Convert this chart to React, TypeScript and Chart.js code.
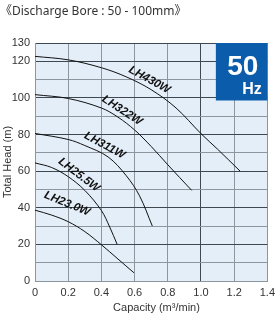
import React, { useEffect, useRef } from "react";
import { Chart, registerables } from "chart.js";

Chart.register(...registerables);

const titleText = "《Discharge Bore : 50 - 100mm》";
const xTitle = "Capacity (m³/min)";
const yTitle = "Total Head (m)";

const q430 = [0, 0.2, 0.4, 0.55, 0.7, 0.85, 1.0, 1.1, 1.236];
const h430 = [122.7, 120.8, 116.5, 111.5, 104.5, 94.5, 80.5, 72, 60];

const q322 = [0, 0.2, 0.4, 0.5, 0.6, 0.7, 0.8, 0.944];
const h322 = [101.8, 99.7, 94.5, 89.5, 82.5, 73.5, 63.5, 49.5];

const q311 = [0, 0.2, 0.3, 0.44, 0.55, 0.63, 0.707];
const h311 = [80.6, 77.3, 74, 67.8, 57.5, 46.5, 30];

const q255 = [0, 0.1, 0.2, 0.3, 0.4, 0.45, 0.495];
const h255 = [64.5, 62, 57, 49.5, 38.5, 29.5, 20];

const q230 = [0, 0.1, 0.2, 0.3, 0.4, 0.5, 0.596];
const h230 = [38.7, 36, 32.4, 27, 19.8, 12, 4.5];

// label anchors (baseline centre, in data units) and rotation in degrees
const labelNames = ["LH430W", "LH322W", "LH311W", "LH25.5W", "LH23.0W"];
const labelQ = [0.6675, 0.499, 0.398, 0.237, 0.176];
const labelH = [106.2, 89.7, 70.3, 54.6, 38.3];
const labelAngle = [29, 33, 28, 37, 22];

const hzMain = "50";
const hzUnit = "Hz";

const series = [
  [q430, h430],
  [q322, h322],
  [q311, h311],
  [q255, h255],
  [q230, h230],
];

const decorPlugin = {
  id: "decor",
  beforeDraw(chart: any) {
    const { ctx, chartArea } = chart;
    ctx.save();
    ctx.fillStyle = "#e4eef8";
    ctx.fillRect(chartArea.left, chartArea.top, chartArea.right - chartArea.left, chartArea.bottom - chartArea.top);
    ctx.restore();
  },
  afterDatasetsDraw(chart: any) {
    const { ctx, chartArea, scales } = chart;
    const xs = scales.x;
    const ys = scales.y;
    ctx.save();
    // curve labels
    ctx.fillStyle = "#111";
    ctx.font = "italic bold 11.5px 'Liberation Sans', Arial, sans-serif";
    ctx.textAlign = "center";
    ctx.textBaseline = "alphabetic";
    for (let i = 0; i < labelNames.length; i++) {
      const px = xs.getPixelForValue(labelQ[i]);
      const py = ys.getPixelForValue(labelH[i]);
      ctx.save();
      ctx.translate(px, py);
      ctx.rotate((labelAngle[i] * Math.PI) / 180);
      ctx.fillText(labelNames[i], 0, -4.5);
      ctx.restore();
    }
    // 50 Hz box
    const bw = 51.5;
    const bh = 57.5;
    const bx = chartArea.right - bw;
    const by = chartArea.top;
    ctx.fillStyle = "#0b5cab";
    ctx.fillRect(bx, by, bw, bh);
    ctx.fillStyle = "#ffffff";
    ctx.font = "bold 28px 'Liberation Sans', Arial, sans-serif";
    ctx.textAlign = "center";
    ctx.textBaseline = "alphabetic";
    ctx.fillText(hzMain, bx + 27, by + 32);
    ctx.font = "bold 16px 'Liberation Sans', Arial, sans-serif";
    ctx.textAlign = "right";
    ctx.fillText(hzUnit, bx + 46, by + 51);
    // title
    ctx.fillStyle = "#333";
    ctx.font = "12px 'Noto Sans', 'Noto Sans CJK JP', sans-serif";
    ctx.textAlign = "left";
    ctx.textBaseline = "alphabetic";
    ctx.fillText(titleText, 0, 15);
    // axis titles
    ctx.fillStyle = "#333";
    ctx.font = "11px 'Liberation Sans', Arial, sans-serif";
    ctx.textAlign = "center";
    ctx.textBaseline = "middle";
    ctx.fillText(xTitle, 156.5, 308);
    ctx.save();
    ctx.translate(8, 162);
    ctx.rotate(-Math.PI / 2);
    ctx.fillText(yTitle, 0, 0);
    ctx.restore();
    ctx.restore();
  },
};

export default function App() {
  const ref = useRef<HTMLCanvasElement | null>(null);
  useEffect(() => {
    if (!ref.current) return;
    const chart = new Chart(ref.current, {
      type: "line",
      data: {
        datasets: series.map(([q, h], i) => ({
          label: labelNames[i],
          data: q.map((x, j) => ({ x, y: h[j] })),
          borderColor: "#111",
          borderWidth: 1,
          pointRadius: 0,
          tension: 0.35,
          fill: false,
        })),
      },
      options: {
        animation: false,
        responsive: false,
        maintainAspectRatio: false,
        layout: { padding: { top: 43, right: 6, left: 0, bottom: 0 } },
        plugins: {
          legend: { display: false },
          tooltip: { enabled: false },
          title: { display: false },
        },
        scales: {
          x: {
            type: "linear",
            min: 0,
            max: 1.4,
            afterFit: (s: any) => {
              s.height = 36;
            },
            ticks: {
              stepSize: 0.2,
              color: "#333",
              font: { family: "'Liberation Sans', Arial, sans-serif", size: 11 },
              padding: 5,
              maxRotation: 0,
              callback: (v: any) => (v === 0 ? "0" : Number(v).toFixed(1)),
            },
            grid: {
              drawTicks: false,
              color: (c: any) => (c.tick && Math.abs(c.tick.value - 1) < 1e-6 ? "#3f4850" : "#8e959c"),
              lineWidth: 1,
            },
            border: { color: "#8e959c" },
          },
          y: {
            type: "linear",
            min: 0,
            max: 130,
            afterFit: (s: any) => {
              s.width = 35;
            },
            ticks: {
              stepSize: 10,
              color: "#333",
              font: { family: "'Liberation Sans', Arial, sans-serif", size: 11 },
              padding: 5,
              callback: (v: any) => (v % 20 === 0 || v === 130 ? String(v) : ""),
            },
            grid: {
              drawTicks: false,
              color: (c: any) =>
                c.tick && ((c.tick.value % 20 === 0 && c.tick.value !== 0) || c.tick.value === 130)
                  ? "#3f4850"
                  : "#8e959c",
              lineWidth: 1,
            },
            border: { color: "#8e959c" },
          },
        },
      },
      plugins: [decorPlugin],
    });
    return () => chart.destroy();
  }, []);
  return (
    <div style={{ position: "absolute", left: 0, top: 0, width: 280, height: 317, background: "#fff" }}>
      <canvas ref={ref} width={280} height={317} style={{ width: 280, height: 317 }} />
    </div>
  );
}
